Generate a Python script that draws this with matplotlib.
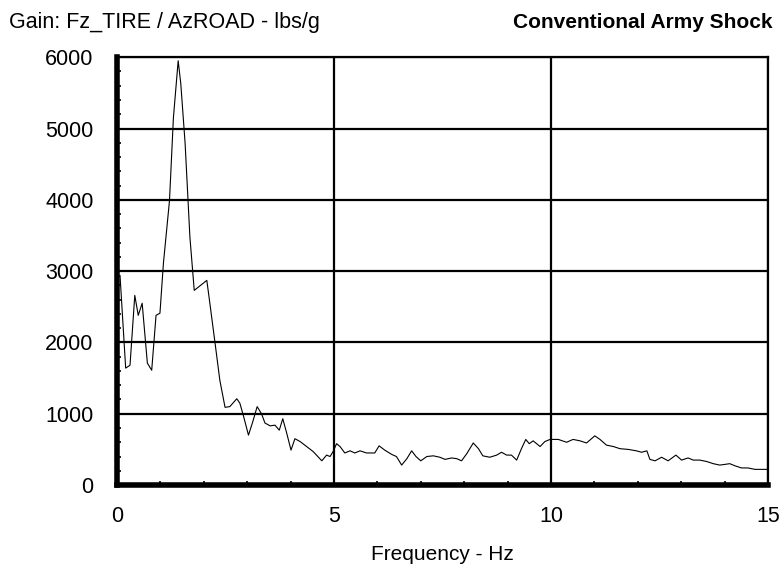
import matplotlib
matplotlib.use('Agg')
import matplotlib.pyplot as plt
from matplotlib.ticker import MultipleLocator

# Frequency response, Hz vs gain in lbs/g
freq = [0.0, 0.07, 0.2, 0.3, 0.41, 0.49, 0.58, 0.70, 0.80, 0.90, 0.99, 1.07, 1.21,
        1.30, 1.41, 1.47, 1.57, 1.68, 1.78, 2.07, 2.14, 2.26, 2.37, 2.49, 2.60, 2.76,
        2.83, 2.91, 3.03, 3.13, 3.23, 3.33, 3.41, 3.53, 3.64, 3.74, 3.82, 3.91, 4.01,
        4.10, 4.22, 4.37, 4.52, 4.72, 4.83, 4.91, 4.98, 5.06, 5.14, 5.25, 5.37, 5.48,
        5.60, 5.75, 5.94, 6.04, 6.17, 6.33, 6.44, 6.56, 6.68, 6.79, 6.89, 7.00, 7.14,
        7.29, 7.44, 7.56, 7.71, 7.83, 7.94, 8.06, 8.21, 8.33, 8.43, 8.59, 8.75, 8.86,
        8.98, 9.09, 9.21, 9.32, 9.42, 9.50, 9.59, 9.75, 9.86, 9.98, 10.17, 10.36,
        10.51, 10.67, 10.82, 11.01, 11.13, 11.28, 11.44, 11.59, 11.78, 11.97, 12.09,
        12.21, 12.28, 12.40, 12.55, 12.70, 12.88, 13.01, 13.16, 13.28, 13.43, 13.59,
        13.74, 13.89, 14.01, 14.12, 14.24, 14.39, 14.54, 14.70, 14.85, 15.0]
gain = [2900, 2940, 1640, 1680, 2660, 2380, 2550, 1710, 1610, 2380, 2410, 3110, 3990,
        5150, 5950, 5630, 4790, 3480, 2730, 2870, 2550, 1990, 1470, 1090, 1100, 1210,
        1150, 980, 700, 890, 1100, 1000, 870, 830, 840, 770, 930, 730, 490,
        650, 610, 540, 470, 340, 420, 400, 470, 580, 540, 450, 480, 450,
        480, 450, 450, 550, 490, 430, 400, 280, 370, 480, 400, 340, 400,
        410, 390, 360, 380, 370, 340, 440, 590, 510, 410, 390, 420, 460,
        420, 420, 350, 510, 640, 580, 620, 540, 610, 640, 640, 600,
        640, 620, 590, 690, 640, 560, 540, 510, 500, 480, 460,
        480, 360, 340, 390, 340, 420, 350, 380, 350, 350, 330,
        300, 280, 290, 300, 270, 240, 240, 220, 220, 220]

x_ticks = [0, 5, 10, 15]
y_ticks = [0, 1000, 2000, 3000, 4000, 5000, 6000]

plt.rcParams['font.family'] = ['Liberation Sans', 'DejaVu Sans']

fig = plt.figure(figsize=(7.82, 5.72), dpi=100)
ax = fig.add_axes([0.1496, 0.152, 0.8324, 0.748])

ax.plot(freq, gain, color='black', linewidth=0.8)

ax.set_xlim(0, 15)
ax.set_ylim(0, 6000)
ax.set_xticks(x_ticks)
ax.set_yticks(y_ticks)
ax.xaxis.set_minor_locator(MultipleLocator(1))
ax.yaxis.set_minor_locator(MultipleLocator(200))
ax.grid(True, which='major', color='black', linewidth=1.6)
ax.tick_params(which='major', length=0, labelsize=15.5)
ax.tick_params(axis='y', which='major', pad=17)
ax.tick_params(axis='x', which='major', pad=15)
ax.tick_params(which='minor', direction='in', length=3, width=1.2)

for side in ['top', 'right']:
    ax.spines[side].set_linewidth(1.6)
ax.spines['left'].set_linewidth(4)
ax.spines['bottom'].set_linewidth(4)

ax.set_xlabel('Frequency - Hz', fontsize=15, labelpad=13)

fig.text(0.012, 0.96, 'Gain: Fz_TIRE / AzROAD - lbs/g', fontsize=15.5, va='center', ha='left')
fig.text(0.988, 0.96, 'Conventional Army Shock', fontsize=15, fontweight='bold',
         va='center', ha='right')

fig.savefig('out.png', dpi=100)
